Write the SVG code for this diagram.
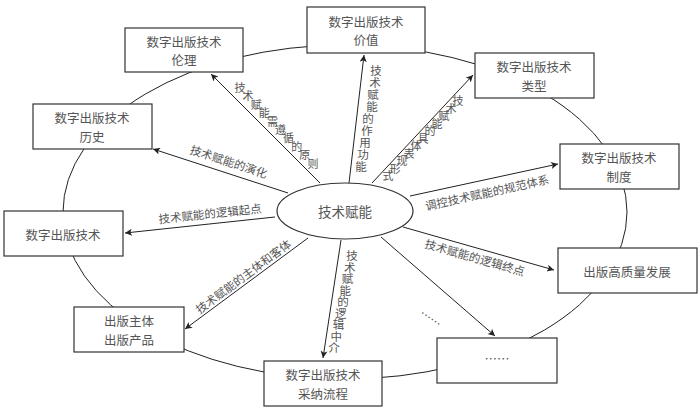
<svg xmlns="http://www.w3.org/2000/svg" width="700" height="411" viewBox="0 0 700 411">
<defs>
<marker id="ah" viewBox="0 0 10 10" refX="10" refY="5" markerWidth="9" markerHeight="7" markerUnits="userSpaceOnUse" orient="auto">
<path d="M0,0 L10,5 L0,10 L2.5,5 Z" fill="#222"/>
</marker>
<style>
text{font-family:"Noto Sans CJK SC","Liberation Sans",sans-serif;fill:#555;}
.bt{font-size:12.5px;text-anchor:middle;dominant-baseline:central;}
.lb{font-size:11.5px;text-anchor:middle;dominant-baseline:central;}
.dg{font-size:11px;text-anchor:middle;dominant-baseline:central;}
.box{fill:#fff;stroke:#333;stroke-width:1.2;}
.ring{fill:none;stroke:#222;stroke-width:1;}
.arr{stroke:#222;stroke-width:1;fill:none;marker-end:url(#ah);}
</style>
</defs>
<rect width="700" height="411" fill="#fff"/>
<ellipse class="ring" cx="345" cy="212" rx="282" ry="167"/>
<g id="connectors">
<line class="arr" x1="320" y1="183" x2="211" y2="74"/>
<line class="arr" x1="349" y1="183" x2="364" y2="55"/>
<line class="arr" x1="372" y1="183" x2="473" y2="75"/>
<line class="arr" x1="410" y1="196" x2="558" y2="164"/>
<line class="arr" x1="403" y1="227" x2="554" y2="270"/>
<line class="arr" x1="381" y1="237" x2="495" y2="336"/>
<line class="arr" x1="341" y1="240" x2="323" y2="358"/>
<line class="arr" x1="308" y1="238" x2="185" y2="329"/>
<line class="arr" x1="275" y1="217" x2="125" y2="233"/>
<line class="arr" x1="288" y1="193" x2="153" y2="149"/>
<text class="dg" x="240 248.1 256.2 264.3 272.4 280.5 288.6 296.7 304.8 313" y="87 95.4 103.8 112.2 120.6 129 137.4 145.8 154.2 163">技术赋能需遵循的原则</text>
<text class="lb" x="376 375 373 372 368 367 365 363 361" y="70 82 94 106 118 130 142 154 166">技术赋能的作用功能</text>
<text class="dg" x="458 451 444 437 430 423 416 409 402 395 388" y="100 107.5 115 122.5 130 137.5 145 152.5 160 167.5 175">技术赋能的具体表现形式</text>
<text class="lb" transform="translate(487,192) rotate(-12.5)">调控技术赋能的规范体系</text>
<text class="lb" transform="translate(475,257) rotate(16)">技术赋能的逻辑终点</text>
<text class="lb" transform="translate(431,318) rotate(35)">……</text>
<text class="lb" x="352 349.8 347.5 345.3 343 340.8 338.5 336.3 334" y="255 266.5 278 289.5 301 312.5 324 335.5 347">技术赋能的逻辑中介</text>
<text class="lb" transform="translate(243,276) rotate(-36.5)">技术赋能的主体和客体</text>
<text class="lb" transform="translate(210,213) rotate(-6)">技术赋能的逻辑起点</text>
<text class="lb" transform="translate(229,161) rotate(18)">技术赋能的演化</text>
</g>
<g id="center"><ellipse cx="345" cy="211" rx="68" ry="28" fill="#fff" stroke="#333" stroke-width="1.2"/><text class="bt" x="345" y="211" style="font-size:13.5px">技术赋能</text></g>
<g id="n-lunli"><rect class="box" x="125" y="28" width="118" height="44"/><text class="bt"><tspan x="184" y="40.8">数字出版技术</tspan><tspan x="184" y="59.2">伦理</tspan></text></g>
<g id="n-jiazhi"><rect class="box" x="307" y="7" width="118" height="46"/><text class="bt"><tspan x="366" y="20.8">数字出版技术</tspan><tspan x="366" y="39.2">价值</tspan></text></g>
<g id="n-leixing"><rect class="box" x="475" y="53" width="119" height="45"/><text class="bt"><tspan x="534" y="66.3">数字出版技术</tspan><tspan x="534" y="84.7">类型</tspan></text></g>
<g id="n-zhidu"><rect class="box" x="560" y="144" width="119" height="45"/><text class="bt"><tspan x="619" y="157.3">数字出版技术</tspan><tspan x="619" y="175.7">制度</tspan></text></g>
<g id="n-fazhan"><rect class="box" x="558" y="248" width="139" height="45"/><text class="bt" x="627" y="271">出版高质量发展</text></g>
<g id="n-more"><rect class="box" x="437" y="338" width="120" height="45"/><text class="bt" x="497" y="358">……</text></g>
<g id="n-liucheng"><rect class="box" x="264" y="361" width="118" height="45"/><text class="bt"><tspan x="323" y="374.3">数字出版技术</tspan><tspan x="323" y="392.7">采纳流程</tspan></text></g>
<g id="n-zhuti"><rect class="box" x="74" y="307" width="110" height="45"/><text class="bt"><tspan x="129" y="320.3">出版主体</tspan><tspan x="129" y="338.7">出版产品</tspan></text></g>
<g id="n-jishu"><rect class="box" x="4" y="211" width="119" height="45"/><text class="bt" x="63" y="234">数字出版技术</text></g>
<g id="n-lishi"><rect class="box" x="33" y="104" width="119" height="45"/><text class="bt"><tspan x="92" y="117.3">数字出版技术</tspan><tspan x="92" y="135.7">历史</tspan></text></g>
</svg>
